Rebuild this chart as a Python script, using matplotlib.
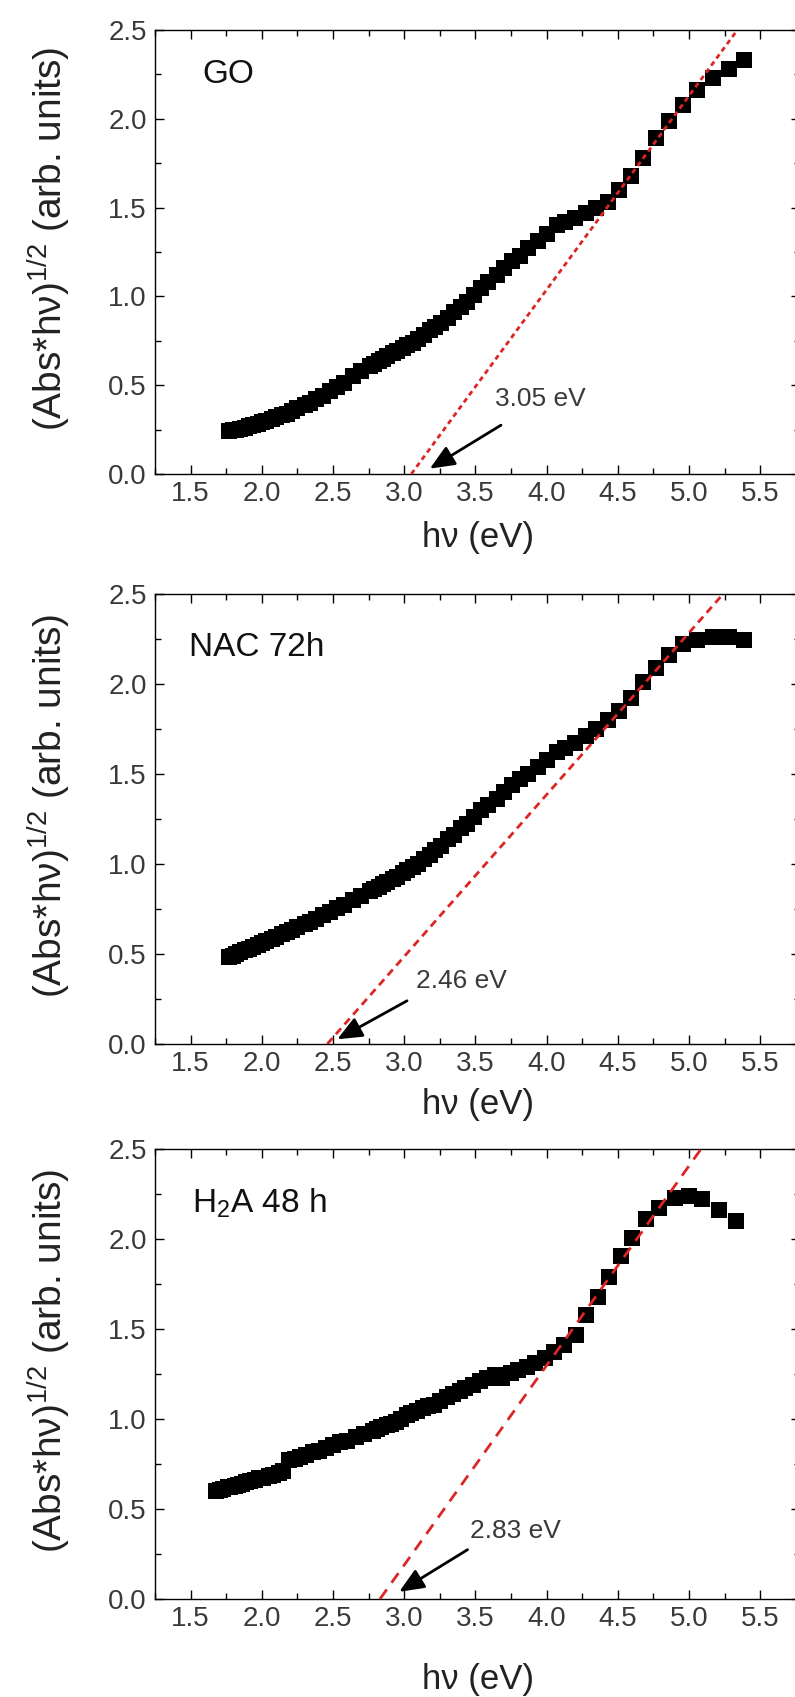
import matplotlib
matplotlib.use("Agg")
import matplotlib.pyplot as plt
from matplotlib.ticker import MultipleLocator

plt.rcParams["font.family"] = ["Liberation Sans", "DejaVu Sans"]
plt.rcParams["mathtext.fontset"] = "custom"
plt.rcParams["mathtext.rm"] = "Liberation Sans"
plt.rcParams["mathtext.it"] = "Liberation Sans:italic"

# ---- data -------------------------------------------------------------
# photon energy (eV) for GO and NAC 72h spectra
energy_go = [
    1.77, 1.80, 1.82, 1.85, 1.88, 1.91, 1.94, 1.97, 2.00, 2.03,
    2.07, 2.10, 2.14, 2.18, 2.21, 2.25, 2.30, 2.34, 2.38, 2.43,
    2.48, 2.53, 2.58, 2.64, 2.70, 2.76, 2.79, 2.82, 2.85, 2.88,
    2.92, 2.95, 2.99, 3.02, 3.06, 3.10, 3.14, 3.18, 3.22, 3.26,
    3.31, 3.35, 3.40, 3.44, 3.49, 3.54, 3.59, 3.65, 3.70, 3.76,
    3.81, 3.87, 3.94, 4.00, 4.07, 4.13, 4.20, 4.28, 4.35, 4.43,
    4.51, 4.59, 4.68, 4.77, 4.86, 4.96, 5.06, 5.17, 5.28, 5.39,
]
tauc_go = [
    0.240, 0.245, 0.250, 0.255, 0.260, 0.270, 0.275, 0.280, 0.290, 0.300,
    0.310, 0.320, 0.330, 0.340, 0.355, 0.370, 0.390, 0.400, 0.420, 0.440,
    0.470, 0.490, 0.510, 0.550, 0.580, 0.610, 0.620, 0.635, 0.650, 0.665,
    0.680, 0.695, 0.710, 0.725, 0.740, 0.760, 0.780, 0.810, 0.830, 0.850,
    0.880, 0.910, 0.940, 0.970, 1.010, 1.050, 1.080, 1.120, 1.160, 1.200,
    1.230, 1.270, 1.310, 1.350, 1.400, 1.420, 1.440, 1.470, 1.500, 1.530,
    1.600, 1.680, 1.780, 1.890, 1.990, 2.080, 2.160, 2.230, 2.280, 2.330,
]

energy_nac = energy_go
tauc_nac = [
    0.485, 0.490, 0.500, 0.510, 0.520, 0.530, 0.540, 0.550, 0.560, 0.570,
    0.585, 0.595, 0.610, 0.625, 0.635, 0.650, 0.665, 0.680, 0.695, 0.715,
    0.735, 0.755, 0.775, 0.800, 0.825, 0.850, 0.860, 0.875, 0.890, 0.900,
    0.915, 0.930, 0.950, 0.965, 0.985, 1.000, 1.030, 1.050, 1.080, 1.100,
    1.140, 1.160, 1.200, 1.220, 1.260, 1.300, 1.330, 1.360, 1.400, 1.440,
    1.470, 1.500, 1.540, 1.580, 1.620, 1.645, 1.670, 1.710, 1.750, 1.800,
    1.850, 1.920, 2.010, 2.090, 2.160, 2.220, 2.245, 2.260, 2.260, 2.245,
]

# photon energy (eV) for H2A 48 h spectrum
energy_h2a = [
    1.68, 1.71, 1.73, 1.76, 1.78, 1.81, 1.83, 1.86, 1.89, 1.92,
    1.95, 1.98, 2.01, 2.05, 2.08, 2.12, 2.15, 2.19, 2.23, 2.27,
    2.31, 2.36, 2.40, 2.45, 2.50, 2.55, 2.60, 2.66, 2.72, 2.78,
    2.81, 2.84, 2.88, 2.91, 2.94, 2.98, 3.02, 3.05, 3.09, 3.13,
    3.17, 3.21, 3.25, 3.30, 3.34, 3.39, 3.43, 3.48, 3.53, 3.58,
    3.64, 3.69, 3.75, 3.80, 3.86, 3.92, 3.99, 4.05, 4.12, 4.21,
    4.28, 4.36, 4.44, 4.52, 4.60, 4.70, 4.79, 4.90, 5.00, 5.09,
    5.21, 5.33,
]
tauc_h2a = [
    0.600, 0.605, 0.610, 0.620, 0.625, 0.630, 0.635, 0.640, 0.650, 0.655,
    0.660, 0.670, 0.675, 0.685, 0.690, 0.700, 0.710, 0.770, 0.780, 0.790,
    0.800, 0.815, 0.825, 0.840, 0.855, 0.870, 0.880, 0.900, 0.915, 0.935,
    0.945, 0.955, 0.965, 0.975, 0.985, 1.000, 1.020, 1.035, 1.045, 1.060,
    1.070, 1.080, 1.100, 1.125, 1.140, 1.155, 1.170, 1.190, 1.210, 1.230,
    1.245, 1.230, 1.255, 1.270, 1.290, 1.310, 1.340, 1.370, 1.410, 1.465,
    1.580, 1.680, 1.790, 1.905, 2.005, 2.110, 2.170, 2.230, 2.240, 2.220,
    2.160, 2.100,
]

sample_names = ["GO", "NAC 72h", r"H$_\mathregular{2}$A 48 h"]
band_gaps = [3.05, 2.46, 2.83]          # x-intercepts of the linear fits (eV)
fit_top_energy = [5.34, 5.24, 5.085]    # energy where each fit reaches 2.5
gap_labels = ["3.05 eV", "2.46 eV", "2.83 eV"]

# ---- layout -----------------------------------------------------------
fig = plt.figure(figsize=(7.95, 16.97), dpi=100)
W, H = 795.0, 1697.0
left_px, right_px = 155, 800
panels_px = [(30, 474), (594, 1044), (1149, 1599)]   # (top, bottom)
xlabel_y = [-0.105, -0.097, -0.142]

series = [(energy_go, tauc_go), (energy_nac, tauc_nac), (energy_h2a, tauc_h2a)]
name_pos = [(1.58, 2.25), (1.49, 2.20), (1.51, 2.20)]
label_pos = [(3.64, 0.425), (3.08, 0.35), (3.46, 0.375)]
arrow_tail = [(3.68, 0.275), (3.02, 0.24), (3.445, 0.274)]
arrow_head = [(3.18, 0.03), (2.53, 0.026), (2.965, 0.04)]
dash_styles = [(0, (1.8, 1.4)), (0, (2.8, 1.9)), (0, (4.2, 3.0))]

text_dark = "#222222"
tick_gray = "#3a3a3a"
fit_red = "#dc2626"

for i, (top, bot) in enumerate(panels_px):
    ax = fig.add_axes([left_px / W, 1 - bot / H,
                       (right_px - left_px) / W, (bot - top) / H])
    x, y = series[i]
    ax.plot(x, y, ls="none", marker="s", ms=11, mfc="black", mec="black",
            mew=0, zorder=2)

    # linear fit through the band-gap intercept
    ax.plot([band_gaps[i], fit_top_energy[i]], [0.0, 2.5], color=fit_red,
            lw=2.0, ls=dash_styles[i], zorder=3)

    ax.annotate("", xy=arrow_head[i], xytext=arrow_tail[i],
                arrowprops=dict(arrowstyle="-|>,head_length=0.75,head_width=0.32",
                                color="black", lw=2.0, shrinkA=0, shrinkB=0,
                                mutation_scale=20), zorder=4)
    ax.text(label_pos[i][0], label_pos[i][1], gap_labels[i], fontsize=19,
            color=tick_gray, ha="left", va="center")
    ax.text(name_pos[i][0], name_pos[i][1], sample_names[i], fontsize=24,
            color="#111111", ha="left", va="center")

    ax.set_xlim(1.25, 5.78)
    ax.set_ylim(0, 2.5)
    ax.xaxis.set_major_locator(MultipleLocator(0.5))
    ax.xaxis.set_minor_locator(MultipleLocator(0.25))
    ax.yaxis.set_major_locator(MultipleLocator(0.5))
    ax.yaxis.set_minor_locator(MultipleLocator(0.25))
    ax.xaxis.set_major_formatter(plt.FormatStrFormatter("%.1f"))
    ax.yaxis.set_major_formatter(plt.FormatStrFormatter("%.1f"))
    ax.tick_params(which="both", direction="in", top=True, right=True,
                   width=1.0, colors="black", labelcolor=tick_gray,
                   labelsize=20)
    ax.tick_params(which="major", length=6.5)
    ax.tick_params(which="minor", length=4.3)
    ax.tick_params(axis="x", which="major", pad=5)
    ax.tick_params(axis="y", which="major", pad=6)
    for s in ax.spines.values():
        s.set_linewidth(1.0)

    ax.set_xlabel("h\u03bd (eV)", fontsize=25, color=text_dark)
    ax.xaxis.set_label_coords(0.5, xlabel_y[i])
    ax.set_ylabel("(Abs*h\u03bd)$^{\\mathregular{1/2}}$ (arb. units)",
                  fontsize=28, color=text_dark)
    ax.yaxis.set_label_coords(-0.127, 0.53)

fig.savefig("out.png", dpi=100)
